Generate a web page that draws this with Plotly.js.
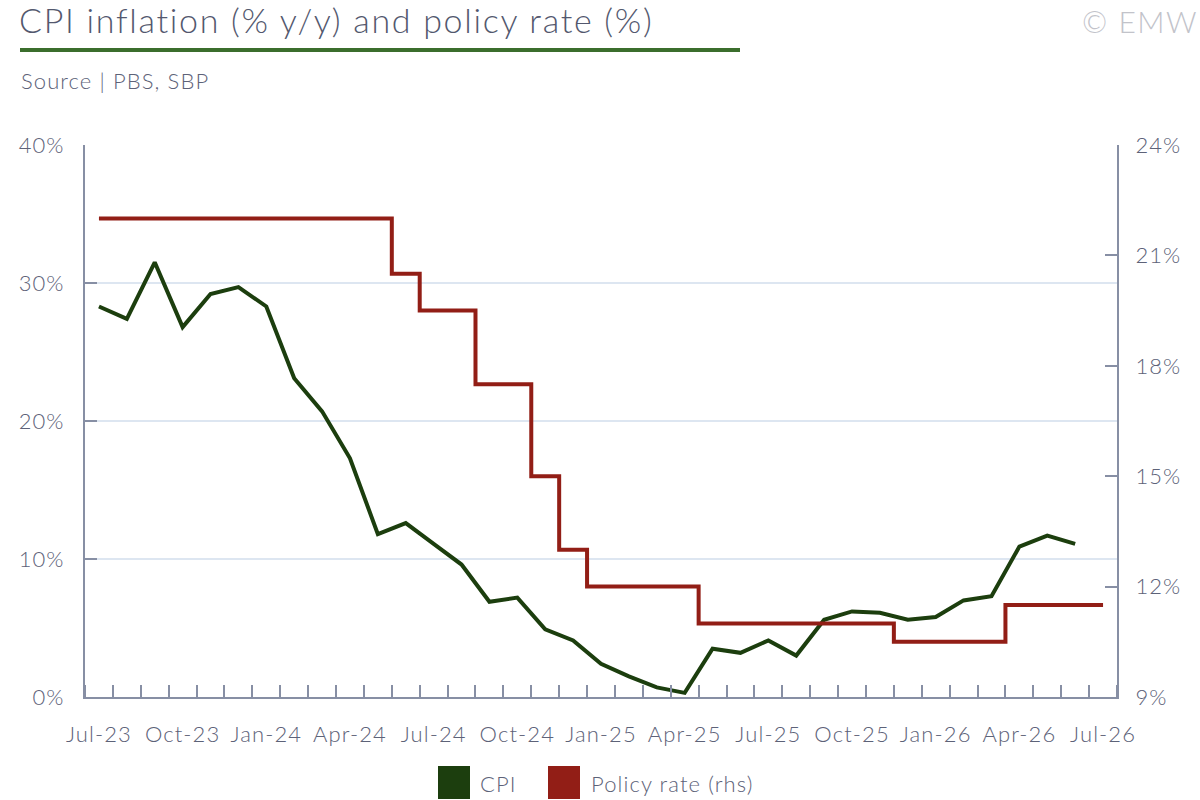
<!DOCTYPE html>
<html>
<head>
<meta charset="utf-8">
<script src="https://cdn.plot.ly/plotly-3.0.1.min.js"></script>
<style>
  html, body { margin: 0; padding: 0; background: #fff; }
  #chart { width: 1200px; height: 800px; }
  /* Raleway is not available, so widen Lato a little (global, so Plotly measures it too) */
  text { letter-spacing: 0.05em; }
</style>
</head>
<body>
<div id="chart"></div>
<script>
// monthly categories, Jul-23 .. Jul-26
const months = [
  'Jul-23', 'Aug-23', 'Sep-23', 'Oct-23', 'Nov-23', 'Dec-23',
  'Jan-24', 'Feb-24', 'Mar-24', 'Apr-24', 'May-24', 'Jun-24',
  'Jul-24', 'Aug-24', 'Sep-24', 'Oct-24', 'Nov-24', 'Dec-24',
  'Jan-25', 'Feb-25', 'Mar-25', 'Apr-25', 'May-25', 'Jun-25',
  'Jul-25', 'Aug-25', 'Sep-25', 'Oct-25', 'Nov-25', 'Dec-25',
  'Jan-26', 'Feb-26', 'Mar-26', 'Apr-26', 'May-26', 'Jun-26',
  'Jul-26'
];

// CPI inflation, % y/y (Jul-23 .. Jun-26)
const cpi = [
  28.3, 27.4, 31.5, 26.8, 29.2, 29.7,
  28.3, 23.1, 20.7, 17.3, 11.8, 12.6,
  11.1, 9.6, 6.9, 7.2, 4.9, 4.1,
  2.4, 1.5, 0.7, 0.3, 3.5, 3.2,
  4.1, 3.0, 5.6, 6.2, 6.1, 5.6,
  5.8, 7.0, 7.3, 10.9, 11.7, 11.1
];

// SBP policy rate, % (Jul-23 .. Jul-26)
const policyRate = [
  22, 22, 22, 22, 22, 22,
  22, 22, 22, 22, 22, 20.5,
  19.5, 19.5, 17.5, 17.5, 15, 13,
  12, 12, 12, 12, 11, 11,
  11, 11, 11, 11, 11, 10.5,
  10.5, 10.5, 10.5, 11.5, 11.5, 11.5,
  11.5
];

const labelEvery = 3;

const cpiColor = '#1c3e0e';
const rateColor = '#921e16';
const axisColor = '#878fa4';
const textColor = '#5d6278';
const fontFamily = 'Lato, sans-serif';
const fontWeight = 300;

const monthIdx = months.map((_, i) => i);
const tickIdx = monthIdx.filter(i => i % labelEvery === 0);
const tickText = tickIdx.map(i => months[i]);

const traces = [
  {
    x: monthIdx.slice(0, cpi.length),
    y: cpi,
    mode: 'lines',
    name: 'CPI',
    line: { color: cpiColor, width: 4 },
    yaxis: 'y'
  },
  {
    x: monthIdx,
    y: policyRate,
    mode: 'lines',
    name: 'Policy rate (rhs)',
    line: { color: rateColor, width: 4, shape: 'hvh' },
    yaxis: 'y2'
  }
];

// plot area in pixels: x 85..1117, y 145..697
const px = v => (v - 85) / 1032;
const py = v => (697 - v) / 552;

const legendItems = [
  { name: 'CPI', color: cpiColor, box: [438, 470], text: 478 },
  { name: 'Policy rate (rhs)', color: rateColor, box: [548, 580], text: 589 }
];

const shapes = [
  {
    type: 'line', xref: 'paper', yref: 'paper',
    x0: px(20), x1: px(740), y0: py(50), y1: py(50),
    line: { color: '#3b6e2d', width: 4 }
  }
];
const annotations = [
  {
    text: 'Source | PBS, SBP', xref: 'paper', yref: 'paper',
    x: px(19), y: py(81), xanchor: 'left', yanchor: 'middle', showarrow: false,
    font: { family: fontFamily, weight: fontWeight, size: 22, color: textColor }
  },
  {
    text: '© EMW', xref: 'paper', yref: 'paper',
    x: px(1200), y: py(21), xanchor: 'right', yanchor: 'middle', showarrow: false,
    font: { family: fontFamily, weight: fontWeight, size: 30, color: '#c2c3ca' }
  }
];
legendItems.forEach(item => {
  shapes.push({
    type: 'rect', xref: 'paper', yref: 'paper',
    x0: px(item.box[0]), x1: px(item.box[1]), y0: py(766), y1: py(799),
    fillcolor: item.color, line: { width: 0 }
  });
  annotations.push({
    text: item.name, xref: 'paper', yref: 'paper',
    x: px(item.text), y: py(783), xanchor: 'left', yanchor: 'middle', showarrow: false,
    font: { family: fontFamily, weight: fontWeight, size: 22, color: textColor }
  });
});

const tickFont = { family: fontFamily, weight: fontWeight, size: 22, color: textColor };

const layout = {
  width: 1200,
  height: 800,
  paper_bgcolor: '#ffffff',
  plot_bgcolor: '#ffffff',
  font: { family: fontFamily, weight: fontWeight, color: textColor, size: 21 },
  showlegend: false,
  margin: { l: 85, r: 83, t: 145, b: 103, pad: 0 },
  title: {
    text: 'CPI inflation (% y/y) and policy rate (%)',
    xref: 'container', yref: 'container',
    x: 19 / 1200, xanchor: 'left',
    y: 1 - 21 / 800, yanchor: 'middle',
    font: { family: fontFamily, weight: fontWeight, size: 34, color: '#53586e' }
  },
  xaxis: {
    type: 'linear',
    range: [-0.5, months.length - 0.5],
    tickmode: 'array',
    tickvals: tickIdx,
    ticktext: tickText,
    ticks: '',
    showgrid: false,
    zeroline: false,
    showline: true,
    linecolor: axisColor,
    linewidth: 2,
    ticklabelstandoff: 17,
    tickfont: tickFont,
    minor: {
      tickmode: 'linear',
      tick0: -0.5,
      dtick: 1,
      ticks: 'inside',
      ticklen: 12,
      tickwidth: 2,
      tickcolor: axisColor,
      showgrid: false
    }
  },
  yaxis: {
    range: [0, 40],
    tickmode: 'linear',
    tick0: 0,
    dtick: 10,
    ticksuffix: '%',
    ticks: 'inside',
    ticklen: 12,
    tickwidth: 2,
    tickcolor: axisColor,
    showline: true,
    linecolor: axisColor,
    linewidth: 2,
    showgrid: true,
    gridcolor: '#dde6f1',
    gridwidth: 2,
    zeroline: false,
    ticklabelstandoff: 14,
    tickfont: tickFont
  },
  yaxis2: {
    overlaying: 'y',
    side: 'right',
    range: [9, 24],
    tickmode: 'linear',
    tick0: 9,
    dtick: 3,
    ticksuffix: '%',
    ticks: 'inside',
    ticklen: 12,
    tickwidth: 2,
    tickcolor: axisColor,
    showline: true,
    linecolor: axisColor,
    linewidth: 2,
    showgrid: false,
    zeroline: false,
    ticklabelstandoff: 12,
    tickfont: tickFont
  },
  shapes: shapes,
  annotations: annotations
};

Plotly.newPlot('chart', traces, layout, { displayModeBar: false, staticPlot: true });
</script>
</body>
</html>
